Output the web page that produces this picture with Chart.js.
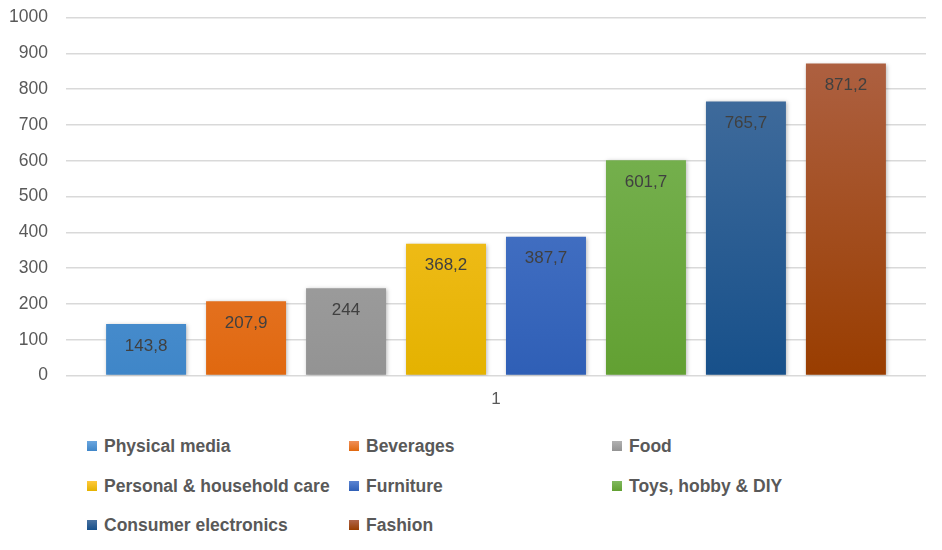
<!DOCTYPE html>
<html>
<head>
<meta charset="utf-8">
<script src="https://cdn.jsdelivr.net/npm/chart.js@4.4.1/dist/chart.umd.min.js"></script>
<style>
  body { margin: 0; background: #fff; }
  #wrap { position: relative; width: 942px; height: 550px; overflow: hidden; }
  #chartBox { position: absolute; left: 0; top: -11px; width: 942px; height: 427px; }
  .leg { position: absolute; font: bold 17.5px "Liberation Sans", Arial, sans-serif; color: #595959; white-space: nowrap; line-height: 20px; }
  .leg span { display: inline-block; width: 10px; height: 10px; margin-right: 7px; vertical-align: 1px; }
</style>
</head>
<body>
<div id="wrap">
  <div id="chartBox"><canvas id="bar-chart"></canvas></div>
  <div id="legend"></div>
</div>
<script>
const categories = ['1'];
const seriesNames = ['Physical media', 'Beverages', 'Food', 'Personal & household care',
  'Furniture', 'Toys, hobby & DIY', 'Consumer electronics', 'Fashion'];
const seriesValues = [143.8, 207.9, 244, 368.2, 387.7, 601.7, 765.7, 871.2];
const yTicks = [0, 100, 200, 300, 400, 500, 600, 700, 800, 900, 1000];

// gradient top / bottom per series (Excel style)
const topColors = ['#6aa6df', '#f08f58', '#b1b1b1', '#ffc93c', '#5b84d2', '#80b95e', '#4a72a0', '#b0654a'];
const bottomColors = ['#3f86c8', '#e0680f', '#939393', '#e4b200', '#2f5fb6', '#62a032', '#17508a', '#993d00'];

function gradientFor(i) {
  return function (ctx) {
    const area = ctx.chart.chartArea;
    if (!area) return bottomColors[i];
    const bar = ctx.element;
    const top = bar && bar.y !== undefined ? bar.y : area.top;
    const g = ctx.chart.ctx.createLinearGradient(0, top, 0, area.bottom);
    g.addColorStop(0, topColors[i]);
    g.addColorStop(1, bottomColors[i]);
    return g;
  };
}

const shadowPlugin = {
  id: 'shadow',
  beforeDatasetDraw(chart) {
    const c = chart.ctx;
    c.save();
    c.shadowColor = 'rgba(0,0,0,0.28)';
    c.shadowBlur = 4;
    c.shadowOffsetX = 1;
    c.shadowOffsetY = 1;
  },
  afterDatasetDraw(chart) {
    chart.ctx.restore();
  }
};

const labelPlugin = {
  id: 'valueLabels',
  afterDatasetsDraw(chart) {
    const c = chart.ctx;
    c.save();
    c.font = '17px "Liberation Sans", Arial, sans-serif';
    c.fillStyle = '#404040';
    c.textAlign = 'center';
    c.textBaseline = 'middle';
    chart.data.datasets.forEach((ds, i) => {
      const meta = chart.getDatasetMeta(i);
      meta.data.forEach((bar, j) => {
        const txt = String(ds.data[j]).replace('.', ',');
        c.fillText(txt, bar.x, bar.y + 22);
      });
    });
    c.restore();
  }
};

const barCanvas = document.getElementById('bar-chart').getContext('2d');
new Chart(barCanvas, {
  type: 'bar',
  data: {
    labels: categories,
    datasets: seriesNames.map((name, i) => ({
      label: name,
      data: [seriesValues[i]],
      backgroundColor: gradientFor(i),
      borderWidth: 0
    }))
  },
  options: {
    responsive: true,
    maintainAspectRatio: false,
    animation: false,
    categoryPercentage: 0.93,
    barPercentage: 0.8,
    layout: { padding: { top: 0, right: 16, left: 0, bottom: 0 } },
    plugins: {
      legend: { display: false },
      tooltip: { enabled: false }
    },
    scales: {
      x: {
        grid: { display: false },
        border: { display: false },
        ticks: { color: '#595959', font: { family: '"Liberation Sans", Arial, sans-serif', size: 17 }, padding: 6 }
      },
      y: {
        min: 0,
        max: 1000,
        afterBuildTicks(axis) { axis.ticks = yTicks.map(v => ({ value: v })); },
        afterFit(axis) { axis.width = 66; },
        grid: { color: '#d9d9d9', lineWidth: 1.5, drawTicks: false },
        border: { display: false },
        ticks: {
          color: '#595959',
          font: { family: '"Liberation Sans", Arial, sans-serif', size: 17.5 },
          padding: 18,
          callback: v => String(v)
        }
      }
    }
  },
  plugins: [shadowPlugin, labelPlugin]
});

// legend in three columns, like the original
const legendCols = [87, 349, 612];
const legendRows = [436, 476, 515];
const legendBox = document.getElementById('legend');
seriesNames.forEach((name, i) => {
  const d = document.createElement('div');
  d.className = 'leg';
  d.style.left = legendCols[i % 3] + 'px';
  d.style.top = legendRows[Math.floor(i / 3)] + 'px';
  const sw = document.createElement('span');
  sw.style.background = 'linear-gradient(' + topColors[i] + ',' + bottomColors[i] + ')';
  d.appendChild(sw);
  d.appendChild(document.createTextNode(name));
  legendBox.appendChild(d);
});
</script>
</body>
</html>
